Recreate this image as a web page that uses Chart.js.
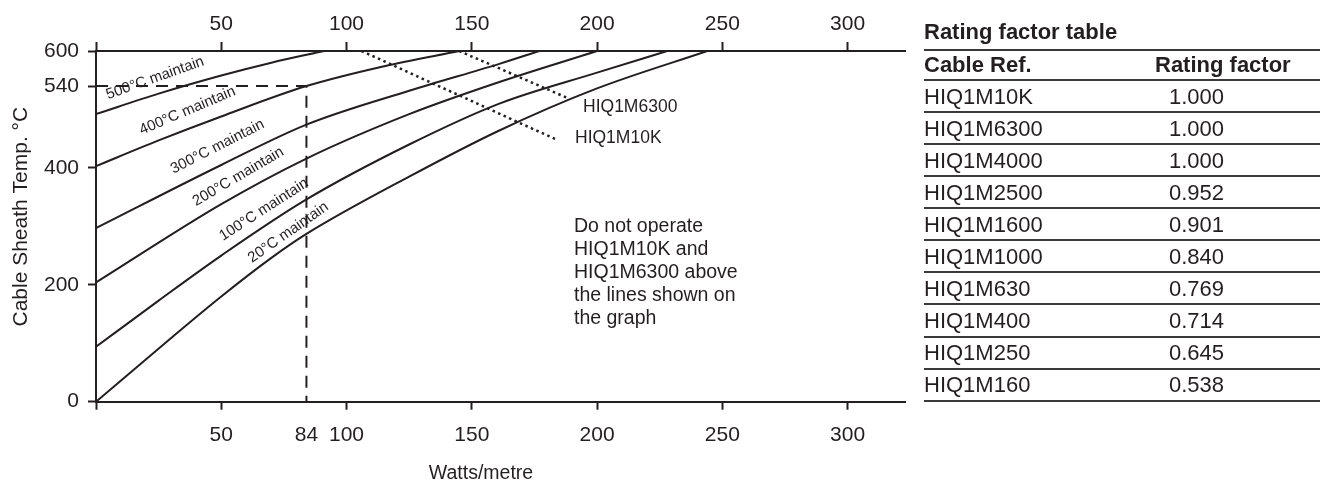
<!DOCTYPE html>
<html>
<head>
<meta charset="utf-8">
<script src="https://cdn.jsdelivr.net/npm/chart.js@4.4.1/dist/chart.umd.min.js"></script>
<style>
  body { margin: 0; width: 1320px; height: 483px; position: relative; overflow: hidden; background: #fff;
         font-family: "Liberation Sans", Arial, sans-serif; color: #231f20; }
  #chartBox { position: absolute; left: 0; top: 0; width: 920px; height: 483px; }
  #rating { position: absolute; left: 0; top: 0; width: 1320px; height: 483px; pointer-events: none; }
  #rating div { position: absolute; white-space: nowrap; font-size: 22px; line-height: 26px; }
  #rating .rule { height: 2px; background: #3a3a3a; left: 924px; width: 396px; }
  #rating .bold { font-weight: bold; }
</style>
</head>
<body>
<div id="chartBox"><canvas id="myChart" width="920" height="483"></canvas></div>
<div id="rating"></div>
<script>
// curves: [W/m, sheath temp °C]
const curve500 = [[0, 492], [25, 527], [50, 558], [70, 580], [91, 600]];
const curve400 = [[0, 403], [25, 447], [50, 488], [84, 540], [115, 574], [145, 600]];
const curve300 = [[0, 297], [50, 405], [84, 474], [125, 532], [161, 578], [177, 600]];
const curve200 = [[0, 204], [50, 338], [84, 416], [125, 492], [161, 547], [200, 600]];
const curve100 = [[0, 94], [25, 173], [50, 250], [84, 346], [125, 440], [161, 510], [200, 563], [228, 600]];
const curve20 = [[0, 0], [30, 109], [50, 180], [70, 246], [84, 287], [125, 385], [161, 464], [200, 536], [244, 600]];
const curveNames = ["500°C maintain", "400°C maintain", "300°C maintain", "200°C maintain", "100°C maintain", "20°C maintain"];

const limit10K = [[106, 600], [184, 448]];
const limit6300 = [[145, 600], [188, 520]];
const example84 = [[0, 540], [84, 540], [84, 0]];

const bottomTicks = [0, 50, 84, 100, 150, 200, 250, 300];
const topTicks = [0, 50, 100, 150, 200, 250, 300];
const tempTicks = [0, 200, 400, 540, 600];

const cableRefs = ["HIQ1M10K", "HIQ1M6300", "HIQ1M4000", "HIQ1M2500", "HIQ1M1600", "HIQ1M1000", "HIQ1M630", "HIQ1M400", "HIQ1M250", "HIQ1M160"];
const ratingFactors = ["1.000", "1.000", "1.000", "0.952", "0.901", "0.840", "0.769", "0.714", "0.645", "0.538"];

const ink = "#231f20";
const fontFam = "'Liberation Sans', Arial, sans-serif";

// where the curve names sit (data coords) and their slant
const labelSpots = [[23.6, 553.6, 19.5], [36.5, 497.7, 23], [48.5, 436.3, 27], [56.8, 385, 30.4], [67, 328.5, 32.9], [76.8, 289.5, 35]];

function toXY(arr) { return arr.map(p => ({ x: p[0], y: p[1] })); }

const curveSets = [curve500, curve400, curve300, curve200, curve100, curve20].map((c, i) => ({
  label: curveNames[i],
  data: toXY(c),
  borderColor: ink,
  borderWidth: 2,
  pointRadius: 0,
  cubicInterpolationMode: "monotone",
  fill: false
}));

const extraSets = [
  { label: "HIQ1M10K", data: toXY(limit10K), borderColor: ink, borderWidth: 2.5, borderDash: [2.5, 3.5], pointRadius: 0, fill: false },
  { label: "HIQ1M6300", data: toXY(limit6300), borderColor: ink, borderWidth: 2.5, borderDash: [2.5, 3.5], pointRadius: 0, fill: false },
  { label: "84", data: toXY(example84), borderColor: ink, borderWidth: 2, borderDash: [12, 8], pointRadius: 0, fill: false }
];

const notes = {
  id: "notes",
  afterDatasetsDraw(chart) {
    const ctx = chart.ctx;
    const xs = chart.scales.x, ys = chart.scales.y;
    ctx.save();
    ctx.fillStyle = ink;
    ctx.font = "15px " + fontFam;
    ctx.textAlign = "center";
    ctx.textBaseline = "middle";
    labelSpots.forEach((s, i) => {
      ctx.save();
      ctx.translate(xs.getPixelForValue(s[0]), ys.getPixelForValue(s[1]));
      ctx.rotate(-s[2] * Math.PI / 180);
      ctx.fillText(curveNames[i], 0, 0);
      ctx.restore();
    });

    ctx.font = "17.5px " + fontFam;
    ctx.textAlign = "left";
    ctx.fillText("HIQ1M6300", xs.getPixelForValue(194.4), ys.getPixelForValue(504.7));
    ctx.fillText("HIQ1M10K", xs.getPixelForValue(191.2), ys.getPixelForValue(451.2));

    ctx.font = "19.5px " + fontFam;
    ctx.textBaseline = "alphabetic";
    const lines = ["Do not operate", "HIQ1M10K and", "HIQ1M6300 above", "the lines shown on", "the graph"];
    const nx = xs.getPixelForValue(190.8), ny = ys.getPixelForValue(290.8);
    lines.forEach((t, i) => ctx.fillText(t, nx, ny + i * 23));

    // axis titles
    ctx.textAlign = "center";
    ctx.textBaseline = "middle";
    ctx.fillText("Watts/metre", chart.chartArea.left + 385, 474);
    ctx.font = "21px " + fontFam;
    ctx.translate(21.7, 216.7);
    ctx.rotate(-Math.PI / 2);
    ctx.fillText("Cable Sheath Temp. °C", 0, 0);
    ctx.restore();
  }
};

const tickFont = { family: fontFam, size: 21 };

new Chart(document.getElementById("myChart"), {
  type: "line",
  data: { datasets: curveSets.concat(extraSets) },
  options: {
    responsive: false,
    animation: false,
    layout: { padding: { left: 0, right: 14.3, top: 0, bottom: 0 } },
    plugins: { legend: { display: false }, tooltip: { enabled: false } },
    scales: {
      x: {
        type: "linear", position: "bottom", min: 0, max: 323.2,
        afterBuildTicks: s => { s.ticks = bottomTicks.map(v => ({ value: v })); },
        afterFit: s => { s.height = 81.3; },
        ticks: { callback: v => v === 0 ? "" : String(v), font: tickFont, color: ink, padding: 12.5, maxRotation: 0, autoSkip: false },
        grid: { drawOnChartArea: false, drawTicks: true, tickLength: 8, tickWidth: 2,
                tickColor: c => (c.tick && c.tick.value === 84) ? "rgba(0,0,0,0)" : ink },
        border: { display: true, color: ink, width: 2 }
      },
      x2: {
        type: "linear", position: "top", min: 0, max: 323.2,
        afterBuildTicks: s => { s.ticks = topTicks.map(v => ({ value: v })); },
        afterFit: s => { s.height = 51; },
        ticks: { callback: v => v === 0 ? "" : String(v), font: tickFont, color: ink, padding: 5.5, maxRotation: 0, autoSkip: false },
        grid: { drawOnChartArea: false, drawTicks: true, tickLength: 9, tickWidth: 2, tickColor: ink },
        border: { display: true, color: ink, width: 2 }
      },
      y: {
        type: "linear", position: "left", min: 0, max: 600,
        afterBuildTicks: s => { s.ticks = tempTicks.map(v => ({ value: v })); },
        afterFit: s => { s.width = 96; },
        ticks: { font: tickFont, color: ink, padding: 9, autoSkip: false },
        grid: { drawOnChartArea: false, drawTicks: true, tickLength: 8, tickWidth: 2, tickColor: ink },
        border: { display: true, color: ink, width: 2 }
      }
    }
  },
  plugins: [notes]
});

// rating factor table
const box = document.getElementById("rating");
function put(text, left, baseline, cls) {
  const d = document.createElement("div");
  d.textContent = text;
  d.style.left = left + "px";
  d.style.top = (baseline - 20.6) + "px";
  if (cls) d.className = cls;
  box.appendChild(d);
}
function rule(y) {
  const d = document.createElement("div");
  d.className = "rule";
  d.style.top = (y - 1) + "px";
  box.appendChild(d);
}
put("Rating factor table", 924, 39.3, "bold");
rule(49.5);
put("Cable Ref.", 924, 72.7, "bold");
put("Rating factor", 1155, 72.7, "bold");
cableRefs.forEach((ref, i) => {
  const top = 80 + i * 32.07;
  rule(top);
  put(ref, 924, top + 24.3);
  put(ratingFactors[i], 1169, top + 24.3);
});
rule(80 + 10 * 32.07);
</script>
</body>
</html>
